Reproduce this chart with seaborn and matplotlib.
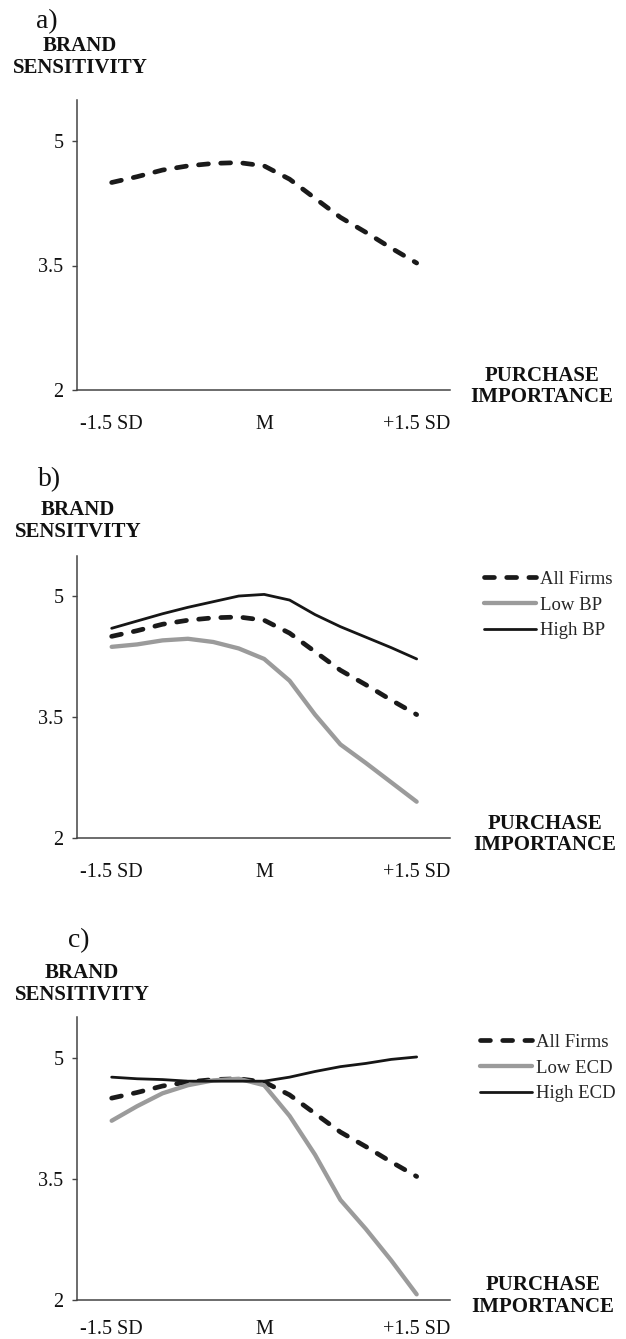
import pandas as pd
import seaborn as sns
import matplotlib.pyplot as plt

# points, x in SD units of purchase importance
sd_points = [-1.5, -1.25, -1.0, -0.75, -0.5, -0.25, 0.0, 0.25, 0.5, 0.75, 1.0, 1.25, 1.5]
all_firms = [4.50, 4.57, 4.65, 4.70, 4.73, 4.74, 4.70, 4.54, 4.31, 4.08, 3.90, 3.71, 3.53]
low_bp = [4.37, 4.40, 4.45, 4.47, 4.43, 4.35, 4.22, 3.95, 3.53, 3.16, 2.93, 2.69, 2.45]
high_bp = [4.60, 4.69, 4.78, 4.86, 4.93, 5.00, 5.02, 4.95, 4.77, 4.62, 4.49, 4.36, 4.22]
low_ecd = [4.22, 4.40, 4.56, 4.66, 4.72, 4.74, 4.66, 4.28, 3.80, 3.24, 2.88, 2.49, 2.07]
high_ecd = [4.76, 4.74, 4.73, 4.71, 4.71, 4.71, 4.71, 4.76, 4.83, 4.89, 4.93, 4.98, 5.01]

x_ticks = [-1.5, 0, 1.5]
x_tick_labels = ["-1.5 SD", "M", "+1.5 SD"]
y_ticks = [2, 3.5, 5]
y_tick_labels = ["2", "3.5", "5"]

sns.set_theme(style="white")
plt.rcParams["font.family"] = ["Liberation Serif", "DejaVu Serif"]

W, H = 626, 1339
fig = plt.figure(figsize=(W / 100, H / 100), dpi=100)

def fx(x):
    return x / W

def fy(y):
    return 1 - y / H

#line looks for the three kinds of series
styles = {
    "all": dict(color="#1a1a1a", linewidth=3.4, linestyle=(0, (2.1, 2.6)), dash_capstyle="round"),
    "low": dict(color="#9b9b9b", linewidth=3.1, solid_capstyle="round"),
    "high": dict(color="#161616", linewidth=2.0, solid_capstyle="round"),
}

panels = [
    dict(tag="a)", tag_xy=(36, 22), ylab="BRAND\nSENSITIVITY", ylab_xy=(80, 57),
         xlab_xy=(542, 386.5), box=(76.7, 99.5, 450, 390), xpad=18,
         series=[("All Firms", all_firms, "all")], legend=None),
    dict(tag="b)", tag_xy=(38, 480), ylab="BRAND\nSENSITVITY", ylab_xy=(78, 521),
         xlab_xy=(545, 834.5), box=(76.7, 555.7, 450, 838), xpad=18,
         series=[("All Firms", all_firms, "all"), ("Low BP", low_bp, "low"), ("High BP", high_bp, "high")],
         legend=(484, 605)),
    dict(tag="c)", tag_xy=(68, 941), ylab="BRAND\nSENSITIVITY", ylab_xy=(82, 984),
         xlab_xy=(543, 1296), box=(76.7, 1017.4, 450, 1300), xpad=14.5,
         series=[("All Firms", all_firms, "all"), ("Low ECD", low_ecd, "low"), ("High ECD", high_ecd, "high")],
         legend=(480, 1068)),
]

for p in panels:
    left, top, right, bottom = p["box"]
    ax = fig.add_axes([fx(left), fy(bottom), (right - left) / W, (bottom - top) / H])

    for name, values, kind in p["series"]:
        df = pd.DataFrame({"sd": sd_points, "value": values})
        sns.lineplot(data=df, x="sd", y="value", ax=ax, label=name, **styles[kind])

    ax.set_xlim(-1.844, 1.828)
    ax.set_ylim(2, 5.5)
    ax.set_xticks(x_ticks)
    ax.set_xticklabels(x_tick_labels)
    ax.set_yticks(y_ticks)
    ax.set_yticklabels(y_tick_labels)
    ax.set_xlabel("")
    ax.set_ylabel("")
    ax.tick_params(axis="x", length=0, pad=p["xpad"], labelsize=14.5, colors="#111111")
    ax.tick_params(axis="y", length=3.6, width=1, pad=6, labelsize=14.5, colors="#111111", direction="out", left=True)
    for s in ["top", "right"]:
        ax.spines[s].set_visible(False)
    for s in ["left", "bottom"]:
        ax.spines[s].set_color("#444444")
        ax.spines[s].set_linewidth(1.1)
    ax.tick_params(axis="y", color="#444444")

    if p["legend"] is not None:
        lx, ly = p["legend"]
        ax.legend(loc="center left", bbox_to_anchor=(fx(lx), fy(ly)), bbox_transform=fig.transFigure,
                  frameon=False, fontsize=13.5, handlelength=2.78, handletextpad=0.2,
                  labelspacing=0.45, borderpad=0, borderaxespad=0)
    else:
        leg = ax.get_legend()
        if leg is not None:
            leg.remove()

    fig.text(fx(p["tag_xy"][0]), fy(p["tag_xy"][1]), p["tag"], fontsize=20, ha="left", va="center", color="#111111")
    fig.text(fx(p["ylab_xy"][0]), fy(p["ylab_xy"][1]), p["ylab"], fontsize=15, fontweight="bold",
             ha="center", va="center", multialignment="center", linespacing=1.12, color="#111111")
    fig.text(fx(p["xlab_xy"][0]), fy(p["xlab_xy"][1]), "PURCHASE\nIMPORTANCE", fontsize=15, fontweight="bold",
             ha="center", va="center", multialignment="center", linespacing=1.12, color="#111111")

fig.savefig("out.png", dpi=100)
